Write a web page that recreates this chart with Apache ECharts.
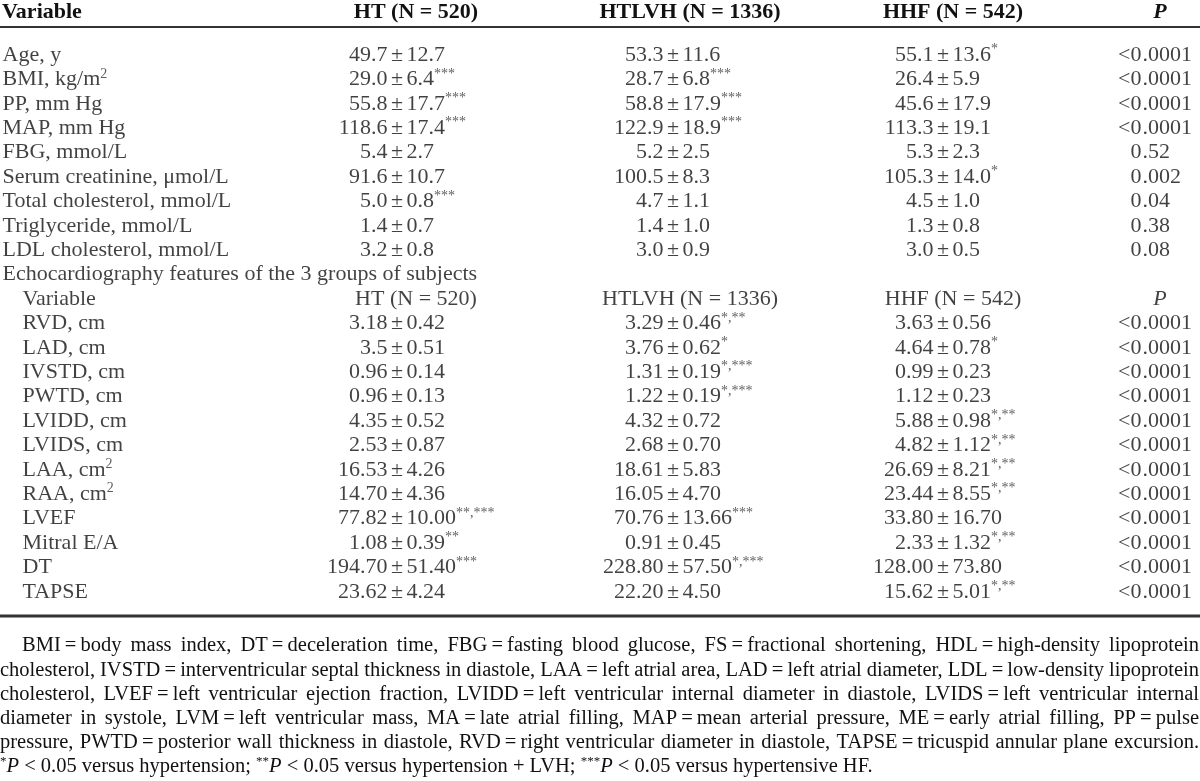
<!DOCTYPE html>
<html><head><meta charset="utf-8">
<script src="https://cdn.jsdelivr.net/npm/echarts@6/dist/echarts.min.js"></script>
<style>html,body{margin:0;padding:0;background:#fff}#c{width:1200px;height:781px}</style>
</head><body><div id="c"></div>
<script>
// ---------- DATA ----------
const headerLabels = ['Variable', 'HT (N = 520)', 'HTLVH (N = 1336)', 'HHF (N = 542)', 'P'];
const sectionTitle = 'Echocardiography features of the 3 groups of subjects';

const demoVars = ['Age, y', 'BMI, kg/m^2', 'PP, mm Hg', 'MAP, mm Hg', 'FBG, mmol/L',
  'Serum creatinine, μmol/L', 'Total cholesterol, mmol/L', 'Triglyceride, mmol/L', 'LDL cholesterol, mmol/L'];
const demoHT = ['49.7 ± 12.7', '29.0 ± 6.4^***', '55.8 ± 17.7^***', '118.6 ± 17.4^***', '5.4 ± 2.7',
  '91.6 ± 10.7', '5.0 ± 0.8^***', '1.4 ± 0.7', '3.2 ± 0.8'];
const demoHTLVH = ['53.3 ± 11.6', '28.7 ± 6.8^***', '58.8 ± 17.9^***', '122.9 ± 18.9^***', '5.2 ± 2.5',
  '100.5 ± 8.3', '4.7 ± 1.1', '1.4 ± 1.0', '3.0 ± 0.9'];
const demoHHF = ['55.1 ± 13.6^*', '26.4 ± 5.9', '45.6 ± 17.9', '113.3 ± 19.1', '5.3 ± 2.3',
  '105.3 ± 14.0^*', '4.5 ± 1.0', '1.3 ± 0.8', '3.0 ± 0.5'];
const demoP = ['<0.0001', '<0.0001', '<0.0001', '<0.0001', '0.52', '0.002', '0.04', '0.38', '0.08'];

const echoVars = ['RVD, cm', 'LAD, cm', 'IVSTD, cm', 'PWTD, cm', 'LVIDD, cm', 'LVIDS, cm',
  'LAA, cm^2', 'RAA, cm^2', 'LVEF', 'Mitral E/A', 'DT', 'TAPSE'];
const echoHT = ['3.18 ± 0.42', '3.5 ± 0.51', '0.96 ± 0.14', '0.96 ± 0.13', '4.35 ± 0.52', '2.53 ± 0.87',
  '16.53 ± 4.26', '14.70 ± 4.36', '77.82 ± 10.00^**,***', '1.08 ± 0.39^**', '194.70 ± 51.40^***', '23.62 ± 4.24'];
const echoHTLVH = ['3.29 ± 0.46^*,**', '3.76 ± 0.62^*', '1.31 ± 0.19^*,***', '1.22 ± 0.19^*,***', '4.32 ± 0.72', '2.68 ± 0.70',
  '18.61 ± 5.83', '16.05 ± 4.70', '70.76 ± 13.66^***', '0.91 ± 0.45', '228.80 ± 57.50^*,***', '22.20 ± 4.50'];
const echoHHF = ['3.63 ± 0.56', '4.64 ± 0.78^*', '0.99 ± 0.23', '1.12 ± 0.23', '5.88 ± 0.98^*,**', '4.82 ± 1.12^*,**',
  '26.69 ± 8.21^*,**', '23.44 ± 8.55^*,**', '33.80 ± 16.70', '2.33 ± 1.32^*,**', '128.00 ± 73.80', '15.62 ± 5.01^*,**'];
const echoP = ['<0.0001', '<0.0001', '<0.0001', '<0.0001', '<0.0001', '<0.0001',
  '<0.0001', '<0.0001', '<0.0001', '<0.0001', '<0.0001', '<0.0001'];

const footnoteLines = [
  'BMI = body mass index, DT = deceleration time, FBG = fasting blood glucose, FS = fractional shortening, HDL = high-density lipoprotein',
  'cholesterol, IVSTD = interventricular septal thickness in diastole, LAA = left atrial area, LAD = left atrial diameter, LDL = low-density lipoprotein',
  'cholesterol, LVEF = left ventricular ejection fraction, LVIDD = left ventricular internal diameter in diastole, LVIDS = left ventricular internal',
  'diameter in systole, LVM = left ventricular mass, MA = late atrial filling, MAP = mean arterial pressure, ME = early atrial filling, PP = pulse',
  'pressure, PWTD = posterior wall thickness in diastole, RVD = right ventricular diameter in diastole, TAPSE = tricuspid annular plane excursion.'
];
const footnoteLast = '{s|*}{i|P} < 0.05 versus hypertension; {s|**}{i|P} < 0.05 versus hypertension + LVH; {s|***}{i|P} < 0.05 versus hypertensive HF.';

// ---------- LAYOUT / STYLE ----------
const FONT = '"Liberation Serif", "DejaVu Serif", serif';
const FS = 22, FN = 20.5;
const TXT = '#111';
const L = {
  varX: 2, echoVarX: 22,
  anchors: [397, 673, 943], pmGap: 9,
  pAnchor: 1142,
  headCenters: [0, 416, 690, 953, 1160],
  headerY: 12, ruleTopY: 27,
  rowTop: 55, rowStep: 24.4,
  ruleBottomY: 616,
  footTop: 646, footStep: 24.2, footRight: 1199, footIndent: 22
};

// ---------- BUILD ----------
function rich(str) {
  const i = str.indexOf('^');
  if (i < 0) return str;
  return str.slice(0, i) + '{s|' + str.slice(i + 1) + '}';
}
const rows = [];
demoVars.forEach((v, i) => rows.push({kind: 'd', name: v, vals: [demoHT[i], demoHTLVH[i], demoHHF[i]], p: demoP[i]}));
rows.push({kind: 'title', name: sectionTitle});
rows.push({kind: 'sub'});
echoVars.forEach((v, i) => rows.push({kind: 'e', name: v, vals: [echoHT[i], echoHTLVH[i], echoHHF[i]], p: echoP[i]}));

const varData = [], leftData = [], pmData = [], rightData = [], pLeftData = [], pRightData = [], centerData = [];
rows.forEach((r, i) => {
  if (r.kind === 'title') { varData.push({value: [L.varX, i], text: r.name}); return; }
  if (r.kind === 'sub') {
    varData.push({value: [L.echoVarX, i], text: headerLabels[0]});
    for (let c = 1; c < 5; c++) {
      centerData.push({value: [L.headCenters[c], i], text: c === 4 ? '{i|' + headerLabels[c] + '}' : headerLabels[c]});
    }
    return;
  }
  varData.push({value: [r.kind === 'e' ? L.echoVarX : L.varX, i], text: rich(r.name)});
  r.vals.forEach((v, c) => {
    const parts = v.split(' ± ');
    const a = L.anchors[c];
    leftData.push({value: [a - L.pmGap, i], text: parts[0]});
    pmData.push({value: [a, i], text: '±'});
    rightData.push({value: [a + L.pmGap, i], text: rich(parts[1])});
  });
  const k = r.p.indexOf('.');
  pLeftData.push({value: [L.pAnchor, i], text: r.p.slice(0, k)});
  pRightData.push({value: [L.pAnchor, i], text: r.p.slice(k)});
});

const RICH = {
  s: {fontSize: 14, lineHeight: 14, verticalAlign: 'top', fontFamily: FONT, color: '#333'},
  i: {fontStyle: 'italic', fontSize: FS, fontFamily: FONT, color: TXT}
};
function textSeries(name, data, pos) {
  return {
    type: 'scatter', name, data, symbolSize: 1, silent: true, animation: false,
    itemStyle: {color: 'rgba(0,0,0,0)'},
    label: {
      show: true, position: pos, distance: 0,
      formatter: p => p.data.text,
      fontFamily: FONT, fontSize: FS, color: TXT, lineHeight: 25, rich: RICH
    }
  };
}

const nRows = rows.length;
const gridTop = L.rowTop - L.rowStep / 2;
const gridH = nRows * L.rowStep;

// header + rules + footnotes as graphic elements
const graphics = [];
const hdrStyle = (text, x, align, italic) => ({
  type: 'text', x, y: L.headerY, silent: true,
  style: {text, fill: TXT, fontFamily: FONT, fontSize: FS, fontWeight: 'bold', fontStyle: italic ? 'italic' : 'normal',
    align, textAlign: align, verticalAlign: 'middle', textVerticalAlign: 'middle'}
});
graphics.push(hdrStyle(headerLabels[0], L.varX, 'left'));
for (let c = 1; c < 5; c++) graphics.push(hdrStyle(headerLabels[c], L.headCenters[c], 'center', c === 4));
graphics.push({type: 'line', silent: true, shape: {x1: 0, y1: L.ruleTopY, x2: 1200, y2: L.ruleTopY}, style: {stroke: '#333', lineWidth: 2}});
graphics.push({type: 'line', silent: true, shape: {x1: 0, y1: L.ruleBottomY, x2: 1200, y2: L.ruleBottomY}, style: {stroke: '#333', lineWidth: 3}});

const ctx = document.createElement('canvas').getContext('2d');
ctx.font = FN + 'px ' + FONT;
footnoteLines.forEach((line, li) => {
  const words = line.replace(/ = /g, '\u2009=\u2009').split(' ');
  const ws = words.map(w => ctx.measureText(w).width);
  const total = ws.reduce((a, b) => a + b, 0);
  const x0 = li === 0 ? L.footIndent : 0;
  const gap = (L.footRight - x0 - total) / (words.length - 1);
  let x = x0;
  const y = L.footTop + li * L.footStep;
  words.forEach((w, k) => {
    graphics.push({type: 'text', x, y, silent: true,
      style: {text: w, fill: TXT, fontFamily: FONT, fontSize: FN, align: 'left', textAlign: 'left', verticalAlign: 'middle', textVerticalAlign: 'middle'}});
    x += ws[k] + gap;
  });
});
graphics.push({type: 'text', x: 0, y: L.footTop + footnoteLines.length * L.footStep, silent: true,
  style: {text: footnoteLast, fill: TXT, fontFamily: FONT, fontSize: FN, lineHeight: 23,
    align: 'left', textAlign: 'left', verticalAlign: 'middle', textVerticalAlign: 'middle',
    rich: {s: {fontSize: 13, lineHeight: 13, verticalAlign: 'top', fontFamily: FONT, fill: TXT, color: TXT},
           i: {fontStyle: 'italic', fontSize: FN, fontFamily: FONT, fill: TXT, color: TXT}}}});

const chart = echarts.init(document.getElementById('c'), null, {renderer: 'canvas'});
chart.setOption({
  backgroundColor: '#fff',
  animation: false,
  grid: {left: 0, right: 0, top: gridTop, height: gridH},
  xAxis: {type: 'value', min: 0, max: 1200, show: false},
  yAxis: {type: 'category', data: rows.map((_, i) => String(i)), inverse: true, show: false},
  series: [
    textSeries('variables', varData, 'right'),
    textSeries('left', leftData, 'left'),
    textSeries('pm', pmData, 'inside'),
    textSeries('right', rightData, 'right'),
    textSeries('pLeft', pLeftData, 'left'),
    textSeries('pRight', pRightData, 'right'),
    textSeries('center', centerData, 'inside')
  ],
  graphic: graphics
});
</script>
</body></html>
